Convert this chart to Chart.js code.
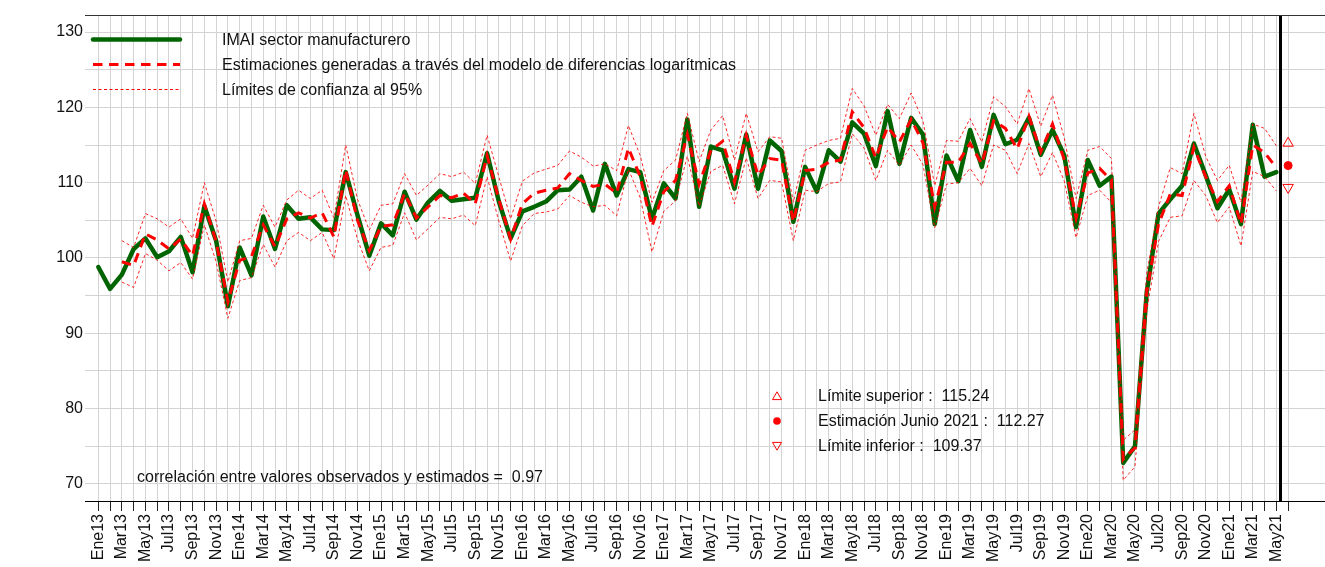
<!DOCTYPE html>
<html>
<head>
<meta charset="utf-8">
<script src="https://cdn.jsdelivr.net/npm/chart.js@4.4.1/dist/chart.umd.min.js"></script>
<style>
  html, body { margin: 0; padding: 0; background: #fff; overflow: hidden; }
  #wrap { width: 1325px; height: 567px; }
  canvas { display: block; }
</style>
</head>
<body>
<div id="wrap"><canvas id="imaiChart" width="1325" height="567"></canvas></div>
<script>
// --- datos ---
const meses = ['Ene', 'Feb', 'Mar', 'Abr', 'May', 'Jun', 'Jul', 'Ago', 'Sep', 'Oct', 'Nov', 'Dic'];
const anios = [13, 14, 15, 16, 17, 18, 19, 20, 21];
const mesesUltimoAnio = 6; // hasta Jun21
const categorias = [];
anios.forEach((a) => meses.forEach((m, j) => {
    if (a < 21 || j < mesesUltimoAnio) categorias.push(m + a);
}));

const imai = [
    98.8, 95.9, 97.8, 101.2, 102.6, 100.1, 100.9, 102.8, 98.1, 106.9,
    102.3, 93.6, 101.4, 97.7, 105.5, 101.2, 107.0, 105.2, 105.4, 103.8,
    103.7, 111.4, 105.7, 100.3, 104.6, 103.0, 108.8, 105.1, 107.4, 108.9,
    107.6, 107.8, 108.0, 113.9, 107.5, 102.6, 106.2, 106.8, 107.5, 109.0,
    109.1, 110.8, 106.3, 112.5, 108.3, 111.8, 111.4, 105.2, 109.9, 107.9,
    118.4, 106.8, 114.8, 114.3, 109.2, 116.4, 109.2, 115.6, 114.2, 104.8,
    112.1, 108.8, 114.3, 112.8, 118.0, 116.5, 112.2, 119.5, 112.5, 118.6,
    116.4, 104.5, 113.6, 110.2, 117.0, 112.1, 119.0, 115.1, 115.7, 118.6,
    113.7, 117.0, 113.6, 104.1, 113.0, 109.6, 110.8, 72.8, 75.0, 95.5,
    105.9, 107.8, 109.6, 115.2, 111.0, 106.6, 109.1, 104.5, 117.7, 110.8,
    111.4
];

const estimaciones = [
    null, null, 99.5, 99.0, 103.2, 102.4, 101.2, 102.5, 100.3, 107.2,
    102.2, 94.2, 99.7, 100.2, 104.4, 101.5, 105.2, 106.0, 105.3, 106.0,
    102.8, 111.7, 105.0, 101.0, 104.2, 104.4, 108.6, 105.3, 106.8, 108.3,
    108.0, 108.6, 107.2, 113.6, 107.8, 102.5, 107.2, 108.6, 109.0, 109.3,
    111.2, 110.3, 109.5, 109.8, 108.6, 114.6, 110.8, 104.2, 108.8, 110.3,
    116.4, 109.8, 114.3, 115.5, 110.1, 116.3, 111.0, 113.2, 113.0, 104.8,
    111.6, 111.8, 112.7, 113.0, 119.4, 117.3, 113.3, 117.4, 115.4, 118.4,
    115.3, 106.8, 112.7, 112.7, 115.2, 112.5, 118.2, 117.2, 114.5, 118.8,
    114.1, 117.8, 113.0, 105.3, 111.3, 111.9, 110.3, 73.3, 74.8, 95.5,
    104.5, 108.5, 108.3, 114.7, 110.8, 107.5, 109.6, 104.5, 115.0, 114.0,
    112.0
];

const limiteSup = [
    null, null, 102.3, 101.4, 105.9, 105.2, 104.1, 105.2, 102.6, 110.0,
    104.9, 96.8, 102.3, 102.6, 107.0, 104.1, 107.7, 109.0, 107.9, 109.0,
    105.3, 115.0, 107.8, 103.7, 107.0, 107.2, 111.2, 108.3, 109.7, 111.2,
    110.8, 111.4, 109.9, 116.3, 110.8, 105.2, 110.2, 111.3, 111.8, 112.3,
    114.2, 113.4, 112.2, 112.5, 111.6, 117.6, 113.6, 107.4, 111.6, 113.0,
    119.2, 112.8, 117.0, 118.9, 113.0, 119.2, 114.1, 116.1, 115.9, 107.4,
    114.3, 115.0, 115.6, 115.9, 122.5, 120.2, 116.3, 120.4, 118.5, 121.9,
    118.2, 109.6, 115.6, 115.5, 118.5, 115.4, 121.4, 120.1, 117.8, 122.5,
    117.5, 121.6, 115.9, 107.9, 114.3, 114.8, 113.2, 75.8, 77.2, 98.0,
    106.8, 112.0, 111.2, 119.2, 113.5, 110.3, 112.3, 107.4, 117.8, 117.2,
    114.9
];

const limiteInf = [
    null, null, 96.8, 96.1, 100.6, 99.7, 98.3, 99.4, 97.2, 104.4,
    99.5, 92.0, 97.0, 97.4, 101.8, 98.8, 102.3, 103.4, 102.3, 103.4,
    99.9, 108.3, 102.5, 98.3, 101.4, 101.7, 106.0, 102.4, 103.9, 105.4,
    105.2, 105.7, 104.3, 110.8, 104.9, 99.6, 104.3, 105.9, 106.1, 106.5,
    108.3, 107.4, 106.8, 107.0, 105.6, 111.8, 108.0, 100.8, 106.2, 107.6,
    113.5, 106.9, 111.5, 112.3, 107.2, 113.3, 107.9, 110.3, 110.1, 102.3,
    109.0, 108.8, 109.9, 110.1, 116.5, 114.6, 110.3, 114.3, 112.3, 115.0,
    112.4, 104.0, 109.8, 110.0, 111.9, 109.6, 115.0, 114.3, 111.2, 115.2,
    110.8, 114.0, 110.2, 102.7, 108.3, 109.0, 107.4, 70.5, 72.3, 93.0,
    102.2, 105.4, 105.6, 110.3, 108.3, 104.7, 106.8, 101.6, 111.5, 110.8,
    108.9
];

// pronostico Junio 2021
const pronSup = 115.24;
const pronEst = 112.27;
const pronInf = 109.37;
const correlacion = 0.97;
const yTicks = [70, 75, 80, 85, 90, 95, 100, 105, 110, 115, 120, 125, 130];

const FONT = '"Liberation Sans", Arial, sans-serif';
const ROJO = '#ff0000';
const VERDE = '#006400';
const iPron = categorias.length - 1;
const corte = iPron - 0.7; // linea vertical negra

const toXY = (arr) => arr.map((v, i) => ({ x: i, y: v }));

// leyendas y linea de corte
const anotaciones = {
    id: 'anotaciones',
    afterDatasetsDraw(chart) {
        const { ctx, chartArea, scales: { x } } = chart;
        ctx.save();
        // linea vertical de corte
        const xc = Math.round(x.getPixelForValue(corte)) + 0.5;
        ctx.strokeStyle = '#000';
        ctx.lineWidth = 3;
        ctx.beginPath();
        ctx.moveTo(xc, chartArea.top);
        ctx.lineTo(xc, chartArea.bottom);
        ctx.stroke();
        // borde superior
        ctx.lineWidth = 1;
        ctx.strokeStyle = '#333';
        ctx.beginPath();
        ctx.moveTo(chartArea.left, chartArea.top + 0.5);
        ctx.lineTo(chartArea.right, chartArea.top + 0.5);
        ctx.stroke();

        ctx.font = '16px ' + FONT;
        ctx.textBaseline = 'middle';
        ctx.fillStyle = '#111';

        // leyenda superior
        const filas = [
            { texto: 'IMAI sector manufacturero', color: VERDE, ancho: 4.5, dash: [], y: 39 },
            { texto: 'Estimaciones generadas a través del modelo de diferencias logarítmicas', color: ROJO, ancho: 3, dash: [9.5, 6.5], y: 64 },
            { texto: 'Límites de confianza al 95%', color: ROJO, ancho: 1.2, dash: [3, 2.5], y: 89 }
        ];
        filas.forEach((f) => {
            ctx.strokeStyle = f.color;
            ctx.lineWidth = f.ancho;
            ctx.setLineDash(f.dash);
            ctx.lineCap = f.dash.length ? 'butt' : 'round';
            ctx.beginPath();
            ctx.moveTo(93, f.y + 0.5);
            ctx.lineTo(180, f.y + 0.5);
            ctx.stroke();
            ctx.setLineDash([]);
            ctx.fillText(f.texto, 222, f.y + 2);
        });

        // leyenda del pronostico
        const sx = 777;
        const tx = 818;
        ctx.strokeStyle = ROJO;
        ctx.fillStyle = ROJO;
        ctx.lineWidth = 1;
        const tri = (cx, cy, r, abajo) => {
            const s = abajo ? -1 : 1;
            ctx.beginPath();
            ctx.moveTo(cx, cy - s * r);
            ctx.lineTo(cx + r * 0.866, cy + s * r / 2);
            ctx.lineTo(cx - r * 0.866, cy + s * r / 2);
            ctx.closePath();
            ctx.stroke();
        };
        tri(sx, 397, 5.2, false);
        ctx.beginPath();
        ctx.arc(sx, 421, 3.8, 0, Math.PI * 2);
        ctx.fill();
        tri(sx, 445, 5.2, true);

        ctx.fillStyle = '#111';
        ctx.fillText('Límite superior :  ' + pronSup.toFixed(2), tx, 397);
        ctx.fillText('Estimación Junio 2021 :  ' + pronEst.toFixed(2), tx, 422);
        ctx.fillText('Límite inferior :  ' + pronInf.toFixed(2), tx, 447);

        ctx.fillText('correlación entre valores observados y estimados =  ' + correlacion.toFixed(2), 137, 478);
        ctx.restore();
    }
};

const ctx = document.getElementById('imaiChart').getContext('2d');
const imaiChart = new Chart(ctx, {
    type: 'line',
    data: {
        datasets: [
            {
                label: 'Pronóstico',
                data: [{ x: iPron, y: pronSup }, { x: iPron, y: pronEst }, { x: iPron, y: pronInf }],
                showLine: false,
                pointStyle: ['triangle', 'circle', 'triangle'],
                pointRotation: [0, 0, 180],
                pointRadius: [6, 4, 6],
                pointBorderWidth: 1,
                pointBorderColor: ROJO,
                pointBackgroundColor: ['rgba(0,0,0,0)', ROJO, 'rgba(0,0,0,0)'],
                order: 0
            },
            {
                label: 'Límite superior',
                data: toXY(limiteSup),
                borderColor: 'rgba(255,0,0,0.85)',
                borderWidth: 1,
                borderDash: [3, 2.5],
                pointRadius: 0,
                order: 1
            },
            {
                label: 'Límite inferior',
                data: toXY(limiteInf),
                borderColor: 'rgba(255,0,0,0.85)',
                borderWidth: 1,
                borderDash: [3, 2.5],
                pointRadius: 0,
                order: 2
            },
            {
                label: 'Estimaciones',
                data: toXY(estimaciones),
                borderColor: ROJO,
                borderWidth: 3,
                borderDash: [9.5, 6.5],
                pointRadius: 0,
                order: 3
            },
            {
                label: 'IMAI sector manufacturero',
                data: toXY(imai),
                borderColor: VERDE,
                borderWidth: 4.5,
                borderCapStyle: 'round',
                borderJoinStyle: 'round',
                pointRadius: 0,
                order: 4
            }
        ]
    },
    options: {
        responsive: false,
        animation: false,
        layout: { autoPadding: false, padding: { top: 15, right: 0, bottom: 0, left: 0 } },
        plugins: {
            legend: { display: false },
            tooltip: { enabled: false }
        },
        scales: {
            x: {
                type: 'linear',
                min: -1.13,
                max: 104.13,
                afterBuildTicks: (s) => { s.ticks = categorias.map((c, i) => ({ value: i })); },
                afterFit: (s) => { s.height = 66; },
                grid: { color: '#d3d3d3', tickColor: '#222', tickLength: 10 },
                border: { display: true, color: '#000', width: 1 },
                ticks: {
                    autoSkip: false,
                    minRotation: 90,
                    maxRotation: 90,
                    padding: 3,
                    color: '#111',
                    font: { family: FONT, size: 16 },
                    callback: (v) => (v % 2 === 0 ? categorias[v] : '')
                }
            },
            y: {
                min: 67.74,
                max: 132.26,
                afterBuildTicks: (s) => { s.ticks = yTicks.map((v) => ({ value: v })); },
                afterFit: (s) => { s.width = 85; },
                grid: { color: '#d3d3d3', drawTicks: false },
                border: { display: false },
                ticks: {
                    padding: 2,
                    color: '#111',
                    font: { family: FONT, size: 16 },
                    callback: (v) => (v % 10 === 0 ? v : '')
                }
            }
        }
    },
    plugins: [anotaciones]
});
</script>
</body>
</html>
